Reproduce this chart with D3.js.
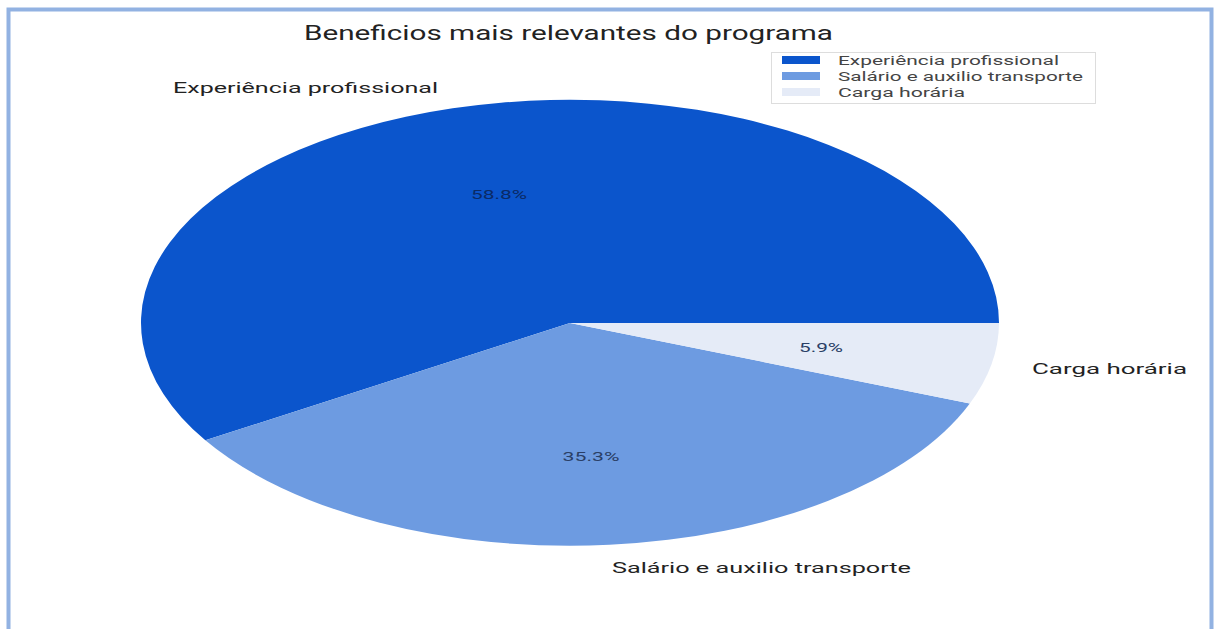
<!DOCTYPE html>
<meta charset="utf-8">
<html>
<head>
    <meta charset="utf-8">
    <title>Beneficios mais relevantes do programa</title>
    <style>
        body { margin: 0; background: #fff; }
        text { font-family: Roboto, "Noto Sans", sans-serif; }
    </style>
</head>
<body>
    <script src="https://cdn.jsdelivr.net/npm/d3@7"></script>
    <script>
        // data
        const categories = ["Experiência profissional", "Salário e auxilio transporte", "Carga horária"];
        const counts = [10, 6, 1];
        const colors = ["#0b55cc", "#6d9be1", "#e5ebf7"];
        const titleText = "Beneficios mais relevantes do programa";

        // layout
        const width = 1214, height = 629;
        const cx = 570, cy = 323;
        const rx = 429, ry = 223;

        const svg = d3.select("body").append("svg")
            .attr("width", width)
            .attr("height", height);

        // light blue frame
        svg.append("path")
            .attr("d", `M8.5,629 V9.5 H1211.5 V629`)
            .attr("fill", "none")
            .attr("stroke", "#92b2e2")
            .attr("stroke-width", 4);

        // title
        svg.append("text")
            .attr("x", 304).attr("y", 40)
            .attr("font-size", 20)
            .attr("fill", "#222")
            .attr("textLength", 529)
            .attr("lengthAdjust", "spacingAndGlyphs")
            .text(titleText);

        // pie: starts at 3 o'clock, runs counterclockwise
        const data = categories.map((c, i) => ({name: c, value: counts[i], color: colors[i]}));
        const total = d3.sum(counts);
        const pie = d3.pie()
            .value(d => d.value)
            .sort(null)
            .startAngle(Math.PI / 2)
            .endAngle(Math.PI / 2 - 2 * Math.PI);
        const arcs = pie(data);
        const arc = d3.arc().innerRadius(0).outerRadius(1);

        const groupMarks = svg.append("g")
            .attr("class", "groupMarks")
            .attr("transform", `translate(${cx},${cy}) scale(${rx},${ry})`);
        groupMarks.selectAll("path")
            .data(arcs)
            .join("path")
            .attr("d", arc)
            .attr("fill", d => d.data.color);

        // percentage labels inside slices
        const pctPos = [[499, 199], [591, 461], [821, 352]];
        const pctWidth = [56, 57, 44];
        const fmt = d3.format(".1%");
        svg.append("g").selectAll("text")
            .data(arcs)
            .join("text")
            .attr("x", (d, i) => pctPos[i][0])
            .attr("y", (d, i) => pctPos[i][1])
            .attr("text-anchor", "middle")
            .attr("font-size", 12)
            .attr("fill", (d, i) => i === 0 ? "#0a2a66" : "#2a3f66")
            .attr("textLength", (d, i) => pctWidth[i])
            .attr("lengthAdjust", "spacingAndGlyphs")
            .text(d => fmt(d.data.value / total));

        // outer category labels
        const labelPos = [[173, 93], [612, 573], [1032, 374]];
        const labelWidth = [265, 299, 155];
        svg.append("g").selectAll("text")
            .data(arcs)
            .join("text")
            .attr("x", (d, i) => labelPos[i][0])
            .attr("y", (d, i) => labelPos[i][1])
            .attr("font-size", 15)
            .attr("fill", "#222")
            .attr("textLength", (d, i) => labelWidth[i])
            .attr("lengthAdjust", "spacingAndGlyphs")
            .text(d => d.data.name);

        // legend
        const legend = svg.append("g").attr("class", "groupLegends");
        legend.append("rect")
            .attr("x", 771.5).attr("y", 52.5)
            .attr("width", 324).attr("height", 51)
            .attr("fill", "#fff")
            .attr("stroke", "#ddd");
        const legendW = [221, 245, 127];
        const rowY = d3.scalePoint().domain(categories).range([60, 92]);
        const rows = legend.selectAll("g.row")
            .data(data)
            .join("g")
            .attr("class", "row")
            .attr("transform", d => `translate(0,${rowY(d.name)})`);
        rows.append("rect")
            .attr("x", 782).attr("y", -4)
            .attr("width", 38).attr("height", 8)
            .attr("fill", d => d.color);
        rows.append("text")
            .attr("x", 838).attr("y", 4.5)
            .attr("font-size", 12)
            .attr("fill", "#444")
            .attr("textLength", (d, i) => legendW[i])
            .attr("lengthAdjust", "spacingAndGlyphs")
            .text(d => d.name);
    </script>
</body>
</html>
